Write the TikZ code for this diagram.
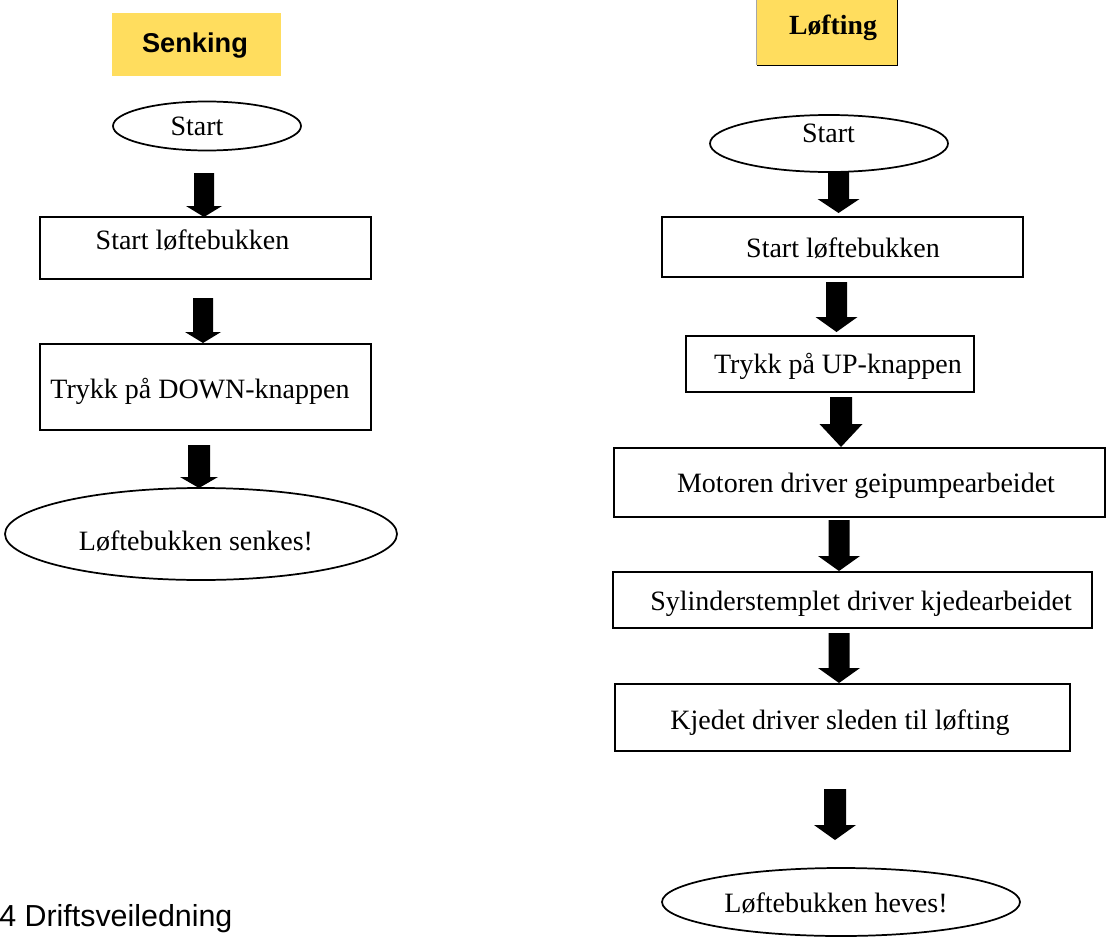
\documentclass[tikz,border=0pt]{standalone}
\usepackage{fontspec}
\setmainfont{Liberation Serif}
\newfontfamily\arialf{Liberation Sans}
\usetikzlibrary{shapes.geometric}
\definecolor{hdr}{HTML}{FFDD5E}
\def\u{0.75pt}
% block arrow: x, ytop, ytip, shaft half width, head half width, head length
\newcommand\blockarr[6]{\fill[black] (#1-#4,#2) -- (#1+#4,#2) -- (#1+#4,#3-#6) -- (#1+#5,#3-#6) -- (#1,#3) -- (#1-#5,#3-#6) -- (#1-#4,#3-#6) -- cycle;}
\tikzset{
  stepbox/.style={draw=black, line width=1.3pt, rectangle, inner sep=0pt},
  oval/.style={draw=black, line width=1.3pt, ellipse, inner sep=0pt},
  lbl/.style={anchor=base, inner sep=0pt, font=\fontsize{21}{25}\selectfont},
}
\begin{document}
\begin{tikzpicture}[x=0.75pt,y=-0.75pt]
\useasboundingbox (0,0) rectangle (1106,942);
\fill[white] (0,0) rectangle (1106,942);

% ---------- headers ----------
\node[fill=hdr, inner sep=0pt, minimum width=169*\u, minimum height=63*\u] (hs) at (196.5,44.5) {};
\node[anchor=base, inner sep=0pt, font=\arialf\bfseries\fontsize{20.4}{24}\selectfont] (hst) at (195,53) {Senking};

\node[fill=hdr, inner sep=0pt, minimum width=140*\u, minimum height=67*\u] (hl) at (827,31.5) {};
\draw[gray!70, line width=0.8pt] (hl.north west) -- (hl.south west);
\draw[black, line width=1pt] (hl.north east) -- (hl.south east) -- (hl.south west);
\node[anchor=base, inner sep=0pt, font=\bfseries\fontsize{20.8}{24}\selectfont] (hlt) at (833,35) {Løfting};

% ---------- left column ----------
\node[oval, minimum width=188*\u, minimum height=49*\u] (ls) at (207,126) {};
\node[lbl] (lst) at (197,135) {Start};
\blockarr{204}{173}{217}{10}{18}{11}
\node[stepbox, minimum width=331*\u, minimum height=62*\u] (l1) at (205.5,248) {};
\node[lbl] (l1t) at (192.5,249) {Start løftebukken};
\blockarr{203}{298}{343}{10}{18}{11}
\node[stepbox, minimum width=331*\u, minimum height=86*\u] (l2) at (205.5,387) {};
\node[lbl] (l2t) at (200,398) {Trykk på DOWN-knappen};
\blockarr{199}{445}{488}{11}{19}{11}
\node[oval, minimum width=392*\u, minimum height=92*\u] (le) at (201,534) {};
\node[lbl] (let) at (196,550) {Løftebukken senkes!};

% ---------- right column ----------
\node[oval, minimum width=238*\u, minimum height=57*\u] (rs) at (829,143.5) {};
\node[lbl] (rst) at (828.5,142) {Start};
\blockarr{838.5}{172}{213}{10.5}{21}{14}
\node[stepbox, minimum width=361*\u, minimum height=60*\u] (r1) at (842.5,247) {};
\node[lbl] (r1t) at (843,257) {Start løftebukken};
\blockarr{836.5}{282}{332}{10.5}{21}{15}
\node[stepbox, minimum width=288*\u, minimum height=56*\u] (r2) at (830,364) {};
\node[lbl] (r2t) at (838,373) {Trykk på UP-knappen};
\blockarr{841}{397}{447}{11}{21.5}{23}
\node[stepbox, minimum width=491*\u, minimum height=69*\u] (r3) at (859.5,482.5) {};
\node[lbl] (r3t) at (866,492) {Motoren driver geipumpearbeidet};
\blockarr{839}{520}{571}{10.5}{21}{15}
\node[stepbox, minimum width=479*\u, minimum height=56*\u] (r4) at (852.5,600) {};
\node[lbl] (r4t) at (861,610) {Sylinderstemplet driver kjedearbeidet};
\blockarr{839}{633}{683}{10.5}{21}{15}
\node[stepbox, minimum width=455*\u, minimum height=67*\u] (r5) at (842.5,717.5) {};
\node[lbl] (r5t) at (840,729) {Kjedet driver sleden til løfting};
\blockarr{835}{789}{840}{11}{21}{15}
\node[oval, minimum width=358*\u, minimum height=68*\u] (re) at (841,902) {};
\node[lbl] (ret) at (836,912) {Løftebukken heves!};

% ---------- footer ----------
\node[anchor=base west, inner sep=0pt, font=\arialf\fontsize{22.8}{27}\selectfont] (foot) at (-1,926) {4 Driftsveiledning};
\end{tikzpicture}
\end{document}
